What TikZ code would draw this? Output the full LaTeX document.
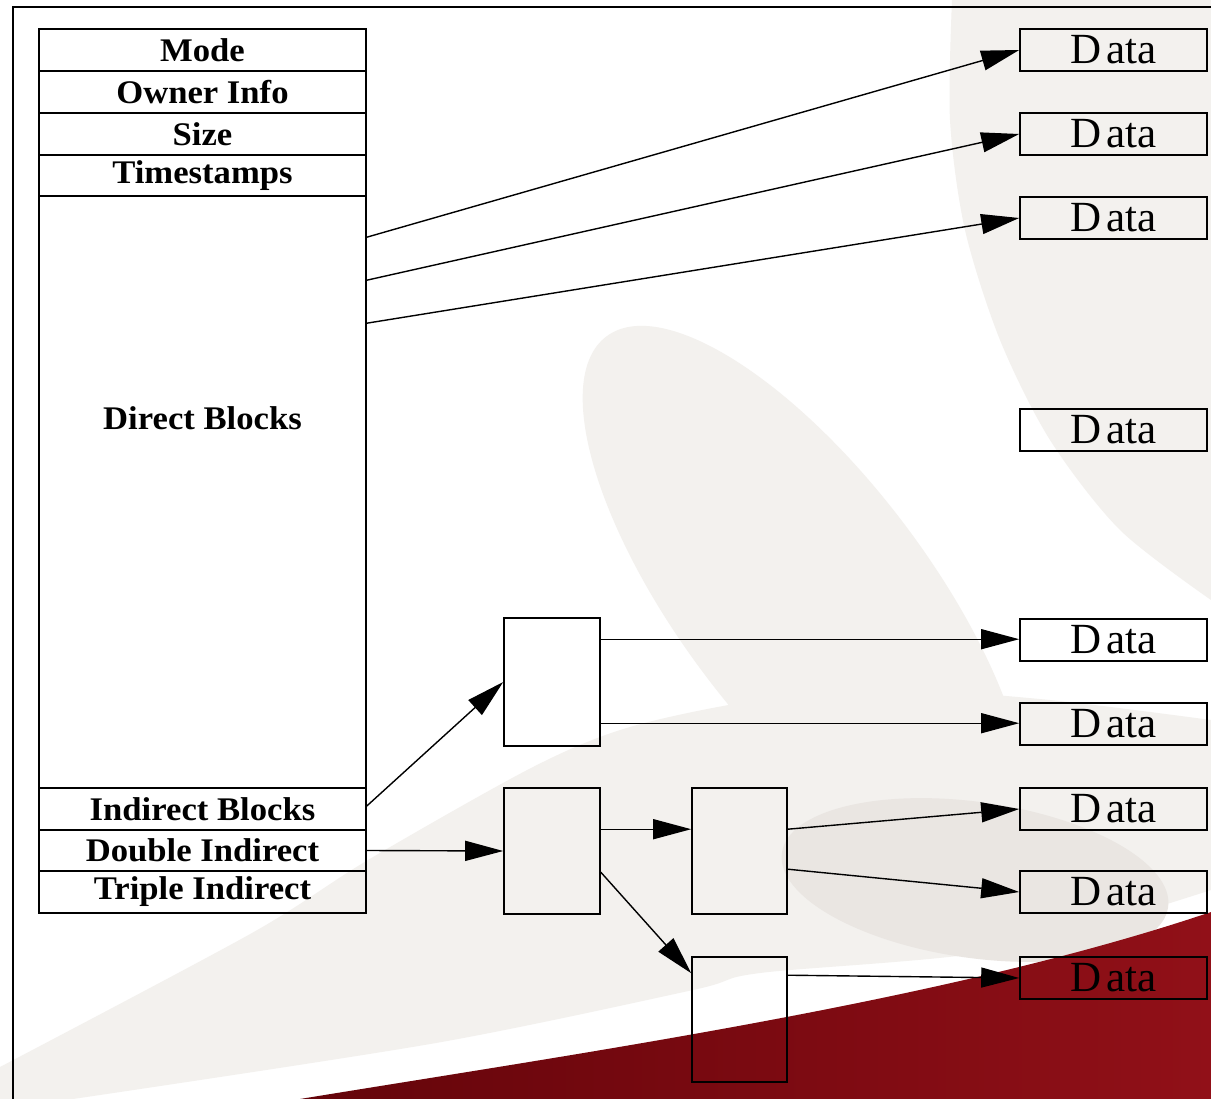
\documentclass[tikz,border=0pt]{standalone}
\usepackage{fontspec}
\setmainfont{Liberation Serif}
\newfontfamily\lblfont[FakeStretch=1.05]{Liberation Serif}
\usetikzlibrary{arrows.meta}
\definecolor{bgg}{RGB}{243,241,238}
\definecolor{bgd}{RGB}{234,230,226}
\definecolor{reddark}{RGB}{100,4,10}
\definecolor{redlight}{RGB}{145,16,24}
\tikzset{
  lbl/.style={font=\lblfont\bfseries\fontsize{33}{36}\selectfont},
  row/.style={draw, line width=1.6pt, minimum width=327pt, inner sep=0pt, lbl},
  datab/.style={draw, line width=1.6pt, minimum width=187pt, minimum height=42pt,
    inner sep=0pt, font=\fontsize{43}{45}\selectfont},
  blk/.style={draw, line width=1.6pt, inner sep=0pt, minimum width=96pt},
  conn/.style={line width=1.4pt, -{Triangle[length=38pt,width=20pt]}},
}
\newcommand{\dtxt}{D\kern5pt ata}
\begin{document}
\begin{tikzpicture}[x=1pt,y=-1pt]
\useasboundingbox (0,0) rectangle (1211,1099);
% ---------- background ----------
\fill[white] (0,0) rectangle (1211,1099);
\fill[bgg] plot[smooth] coordinates {(952,0) (950,120) (965,230) (1000,340) (1050,440) (1120,530) (1211,600)} -- (1211,0) -- cycle;
\fill[bgg, rotate around={-53:(805,600)}] (805,600) ellipse [x radius=330pt, y radius=125pt];
\fill[bgg] plot[smooth] coordinates {(0,1067) (252,933) (368,860) (533,767) (630,727) (760,700) (900,690) (1050,700) (1211,720)}
  -- (1211,890) -- plot[smooth] coordinates {(1211,890) (1000,950) (760,973) (693,990) (436,1043) (73,1099)} -- (0,1099) -- cycle;
\fill[bgd, rotate around={-8:(975,880)}] (975,880) ellipse [x radius=195pt, y radius=78pt];
\shade[left color=reddark, right color=redlight] (300,1099) .. controls (600,1050) and (950,1000) .. (1211,912) -- (1211,1099) -- cycle;
% ---------- frame ----------
\draw[line width=2pt] (13,1099) -- (13,7) -- (1211,7);
% ---------- inode ----------
\node[row, minimum height=42pt] (mode)   at (202.5,50)    {Mode};
\node[row, minimum height=42pt] (owner)  at (202.5,92)    {Owner Info};
\node[row, minimum height=42pt] (size)   at (202.5,134)   {Size};
\node[row, minimum height=41pt] (time)   at (202.5,175.5) {Timestamps};
\node[row, minimum height=592pt] (direct) at (202.5,492)  {};
\node[lbl] (directlbl) at (202.5,418) {Direct Blocks};
\node[row, minimum height=42pt] (indir)  at (202.5,809)   {Indirect Blocks};
\node[row, minimum height=41pt] (dbl)    at (202.5,850.5) {Double Indirect};
\node[row, minimum height=42pt] (tpl)    at (202.5,892)   {Triple Indirect};
% ---------- data blocks ----------
\node[datab] (d1) at (1113.5,50)  {\dtxt};
\node[datab] (d2) at (1113.5,134) {\dtxt};
\node[datab] (d3) at (1113.5,218) {\dtxt};
\node[datab] (d4) at (1113.5,430) {\dtxt};
\node[datab] (d5) at (1113.5,640) {\dtxt};
\node[datab] (d6) at (1113.5,724) {\dtxt};
\node[datab] (d7) at (1113.5,809) {\dtxt};
\node[datab] (d8) at (1113.5,892) {\dtxt};
\node[datab] (d9) at (1113.5,978) {\dtxt};
% ---------- indirect blocks ----------
\node[blk, minimum height=128pt] (ib1) at (552,682) {};
\node[blk, minimum height=126pt] (db1) at (552,851) {};
\node[blk, minimum width=95pt, minimum height=126pt] (db2) at (739.5,851) {};
\node[blk, minimum width=95pt, minimum height=125pt] (db3) at (739.5,1019.5) {};
% ---------- connectors ----------
\draw[conn] ([yshift=-42pt]direct.north east) -- (d1.west);
\draw[conn] ([yshift=-85pt]direct.north east) -- (d2.west);
\draw[conn] ([yshift=-128pt]direct.north east) -- (d3.west);
\draw[conn] ([yshift=3pt]indir.east) -- (ib1.west);
\draw[conn] ([yshift=-22pt]ib1.north east) -- ([yshift=-21pt]d5.north west);
\draw[conn] ([yshift=-106pt]ib1.north east) -- ([yshift=-21pt]d6.north west);
\draw[conn] (dbl.east) -- (db1.west);
\draw[conn] ([yshift=-42pt]db1.north east) -- ([yshift=-42pt]db2.north west);
\draw[conn] ([yshift=-85pt]db1.north east) -- ([yshift=-17pt]db3.north west);
\draw[conn] ([yshift=-42pt]db2.north east) -- (d7.west);
\draw[conn] ([yshift=-82pt]db2.north east) -- (d8.west);
\draw[conn] ([yshift=-19pt]db3.north east) -- (d9.west);
\end{tikzpicture}
\end{document}
